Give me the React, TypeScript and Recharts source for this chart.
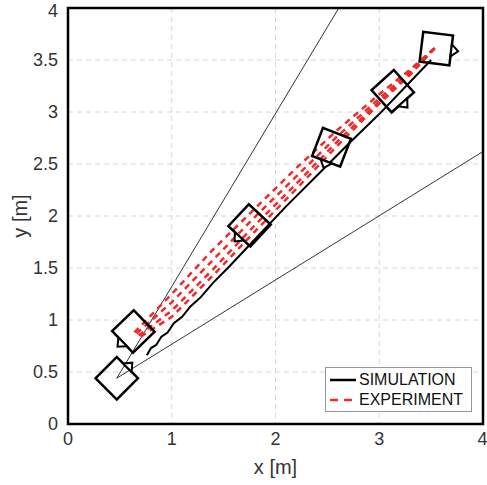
import { ComposedChart, Line, Scatter, XAxis, YAxis, CartesianGrid, ReferenceArea, Legend } from 'recharts';

const font = '"Liberation Sans", Arial, sans-serif';

const xTicks = [0, 1, 2, 3, 4];
const yTicks = [0, 0.5, 1, 1.5, 2, 2.5, 3, 3.5, 4];

// sensing cone edges from the start pose
const coneUpper = [{ x: 0.47, y: 0.44 }, { x: 2.61, y: 4 }];
const coneLower = [{ x: 0.47, y: 0.44 }, { x: 4, y: 2.62 }];

const simulation = [
    { x: 0.76, y: 0.66 }, { x: 0.8, y: 0.73 }, { x: 0.85, y: 0.76 }, { x: 0.9, y: 0.84 },
    { x: 0.96, y: 0.88 }, { x: 1.02, y: 0.97 }, { x: 1.1, y: 1.03 }, { x: 1.18, y: 1.13 },
    { x: 1.28, y: 1.22 }, { x: 1.4, y: 1.36 }, { x: 1.55, y: 1.51 }, { x: 1.72, y: 1.69 },
    { x: 1.9, y: 1.88 }, { x: 2.1, y: 2.09 }, { x: 2.4, y: 2.39 }, { x: 2.7, y: 2.69 },
    { x: 3.0, y: 2.98 }, { x: 3.25, y: 3.24 }, { x: 3.5, y: 3.5 },
];

const run1 = [
    { x: 0.64, y: 0.88 }, { x: 1.0, y: 1.25 }, { x: 1.4, y: 1.68 }, { x: 1.8, y: 2.07 },
    { x: 2.2, y: 2.46 }, { x: 2.6, y: 2.83 }, { x: 3.0, y: 3.17 }, { x: 3.3, y: 3.41 }, { x: 3.55, y: 3.63 },
];
const run2 = [
    { x: 0.66, y: 0.87 }, { x: 1.0, y: 1.17 }, { x: 1.4, y: 1.58 }, { x: 1.8, y: 1.99 },
    { x: 2.2, y: 2.38 }, { x: 2.6, y: 2.77 }, { x: 3.0, y: 3.13 }, { x: 3.3, y: 3.39 }, { x: 3.55, y: 3.63 },
];
const run3 = [
    { x: 0.68, y: 0.85 }, { x: 1.0, y: 1.09 }, { x: 1.4, y: 1.49 }, { x: 1.8, y: 1.91 },
    { x: 2.2, y: 2.31 }, { x: 2.6, y: 2.72 }, { x: 3.0, y: 3.1 }, { x: 3.3, y: 3.37 }, { x: 3.55, y: 3.63 },
];
const run4 = [
    { x: 0.7, y: 0.84 }, { x: 1.0, y: 1.03 }, { x: 1.4, y: 1.43 }, { x: 1.8, y: 1.85 },
    { x: 2.2, y: 2.26 }, { x: 2.6, y: 2.68 }, { x: 3.0, y: 3.08 }, { x: 3.3, y: 3.36 }, { x: 3.55, y: 3.63 },
];
const runs = [run1, run2, run3, run4];

// robot poses: centre, body angle (deg), which edge carries the marker
const robots = [
    { x: 0.47, y: 0.44, angle: 45, face: 0 },
    { x: 0.63, y: 0.89, angle: 44, face: 2 },
    { x: 1.75, y: 1.91, angle: 47, face: 2 },
    { x: 2.54, y: 2.66, angle: -21, face: 3 },
    { x: 3.13, y: 3.2, angle: 42, face: 3 },
    { x: 3.55, y: 3.61, angle: -7, face: 0 },
];

const legendItems = [
    { name: 'SIMULATION', color: '#000', dash: undefined },
    { name: 'EXPERIMENT', color: '#ee2a2a', dash: '8 6' },
];

const RED = '#ee2a2a';

const Robot = (props: any) => {
    const { cx, cy, payload } = props;
    const h = 15;
    return (
        <g transform={`translate(${cx},${cy}) rotate(${-payload.angle})`}>
            <rect x={-h} y={-h} width={2 * h} height={2 * h} fill="none" stroke="#000" strokeWidth={2.5} />
            <g transform={`rotate(${-90 * payload.face})`}>
                <polygon points={`${h},-6 ${h + 7},0 ${h},6`} fill="#fff" stroke="#000" strokeWidth={2} strokeLinejoin="miter" />
            </g>
        </g>
    );
};

const LegendBox = () => (
    <div style={{ border: '1px solid #999', background: '#fff', width: 147, height: 45, padding: '2px 0 0 3px', boxSizing: 'border-box', fontFamily: font, fontSize: 16, color: '#111' }}>
        {legendItems.map(item => (
            <div key={item.name} style={{ display: 'flex', alignItems: 'center', height: 20 }}>
                <svg width={30} height={10}>
                    <line x1={1} y1={5} x2={27} y2={5} stroke={item.color} strokeWidth={2.5} strokeDasharray={item.dash} />
                </svg>
                <span style={{ lineHeight: '20px' }}>{item.name}</span>
            </div>
        ))}
    </div>
);

const YLabel = (props: any) => {
    const { viewBox } = props;
    const cy = viewBox.y + viewBox.height / 2;
    return (
        <text x={20} y={cy} transform={`rotate(-90, 20, ${cy})`} textAnchor="middle" dominantBaseline="central" fontSize={20} fill="#333" fontFamily={font}>
            y [m]
        </text>
    );
};

const App = () => {
    return (
        <div style={{ position: 'absolute', left: 0, top: 0 }}>
            <ComposedChart width={487} height={485} margin={{ top: 8, right: 4, bottom: 0, left: 0 }}>
                <CartesianGrid stroke="#d6d6d6" strokeDasharray="5 4" horizontalValues={yTicks} verticalValues={xTicks} />
                <XAxis
                    type="number"
                    dataKey="x"
                    domain={[0, 4]}
                    ticks={xTicks}
                    allowDataOverflow
                    height={61}
                    axisLine={false}
                    tickLine={false}
                    tickSize={0}
                    tickMargin={8}
                    tick={{ fontSize: 18, fill: '#333', fontFamily: font }}
                    label={{ value: 'x [m]', position: 'insideBottom', offset: 11, fontSize: 20, fill: '#333', fontFamily: font }}
                />
                <YAxis
                    type="number"
                    dataKey="y"
                    domain={[0, 4]}
                    ticks={yTicks}
                    allowDataOverflow
                    width={68}
                    axisLine={false}
                    tickLine={false}
                    tickSize={0}
                    tickMargin={10}
                    tick={{ fontSize: 18, fill: '#333', fontFamily: font }}
                    label={<YLabel />}
                />
                <Line data={coneUpper} dataKey="y" stroke="#000" strokeWidth={0.8} dot={false} legendType="none" isAnimationActive={false} />
                <Line data={coneLower} dataKey="y" stroke="#000" strokeWidth={0.8} dot={false} legendType="none" isAnimationActive={false} />
                {runs.map((run, i) => (
                    <Line key={i} data={run} dataKey="y" stroke={RED} strokeWidth={2.5} strokeDasharray="6 5" dot={false} legendType="none" isAnimationActive={false} />
                ))}
                <Line data={simulation} dataKey="y" stroke="#000" strokeWidth={2} dot={false} legendType="none" isAnimationActive={false} />
                <Scatter data={robots} shape={<Robot />} legendType="none" isAnimationActive={false} />
                <ReferenceArea x1={0} x2={4} y1={0} y2={4} fill="none" stroke="#000" strokeWidth={2.5} />
                <Legend layout="vertical" align="center" verticalAlign="middle" content={<LegendBox />} wrapperStyle={{ left: 325, top: 367, width: 147 }} />
            </ComposedChart>
        </div>
    );
};

export default App;
